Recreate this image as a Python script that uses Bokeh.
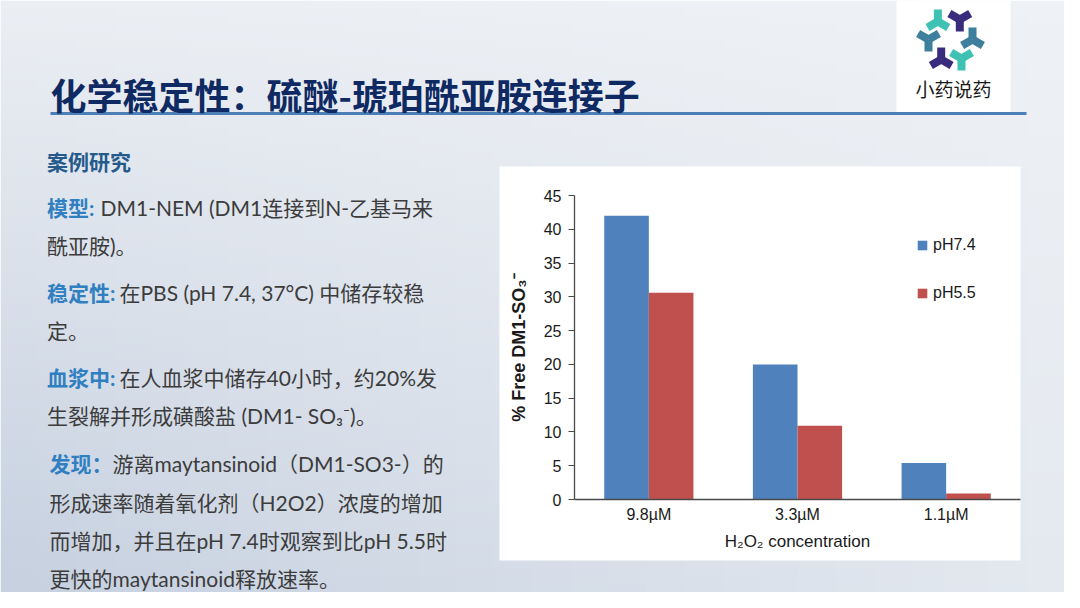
from bokeh.plotting import figure
from bokeh.models import Range1d, FixedTicker, Label, ColumnDataSource
from bokeh.transform import dodge
from bokeh.embed import file_html
from bokeh.resources import INLINE
import math

# ---------------- data ----------------
concentrations = ["9.8µM", "3.3µM", "1.1µM"]
ph74_values = [42.0, 20.0, 5.4]
ph55_values = [30.6, 10.9, 0.9]
series_names = ["pH7.4", "pH5.5"]
y_ticks = [0, 5, 10, 15, 20, 25, 30, 35, 40, 45]
y_label = "% Free DM1-SO₃⁻"
x_label = "H₂O₂ concentration"

title_text = "化学稳定性：硫醚-琥珀酰亚胺连接子"
logo_text = "小药说药"
heading_text = "案例研究"
para_labels = ["模型:", "稳定性:", "血浆中:", "发现："]
para_lines = [
    ["DM1-NEM (DM1连接到N-乙基马来", "酰亚胺)。"],
    ["在PBS (pH 7.4, 37°C) 中储存较稳", "定。"],
    ["在人血浆中储存40小时，约20%发", "生裂解并形成磺酸盐 (DM1- SO₃⁻)。"],
    ["游离maytansinoid（DM1-SO3-）的", "形成速率随着氧化剂（H2O2）浓度的增加",
     "而增加，并且在pH 7.4时观察到比pH 5.5时", "更快的maytansinoid释放速率。"],
]

# ---------------- geometry / styling ----------------
W, H = 1064, 592
CH_L, CH_R, CH_T, CH_B = 574, 1020, 195, 499        # chart axes box (page px)
PANEL_L, PANEL_R, PANEL_T, PANEL_B = 499, 1020, 166, 560
BLUE = "#4f81bd"
RED = "#c0504d"
CHART_FONT = "Liberation Sans, Arial, sans-serif"
BODY_FONT = "Lato, 'Noto Sans CJK SC', sans-serif"
CJK_FONT = "'Noto Sans CJK SC', sans-serif"
LIGHT = (238, 241, 245)
DARK = (199, 209, 224)

n = len(concentrations)
ymax = y_ticks[-1]
ppx = (CH_R - CH_L) / n
ppy = (CH_B - CH_T) / ymax
x_start, x_end = -CH_L / ppx, n + (W - CH_R) / ppx
y_start, y_end = -(H - CH_B) / ppy, ymax + CH_T / ppy

p = figure(width=W, height=H, x_range=Range1d(x_start, x_end), y_range=Range1d(y_start, y_end),
           output_backend="svg", toolbar_location=None, min_border=0,
           outline_line_color=None, background_fill_color="white",
           border_fill_color="white")
p.extra_x_ranges = {"px": Range1d(0, W)}
p.extra_y_ranges = {"px": Range1d(H, 0)}
p.grid.visible = False

# ---------------- slide background ----------------
def shade(x, y):
    d = (y / 608.0) * (1 - 0.75 * x / 1080.0) + 0.08 * (1 - x / 1080.0)
    d = min(max(d, 0.0), 1.0)
    return "#%02x%02x%02x" % tuple(int(round(a + (b - a) * d)) for a, b in zip(LIGHT, DARK))


bl, br, bt, bb, bc = [], [], [], [], []
for yy in range(0, H, 8):
    for xx in range(0, W, 38):
        bl.append(xx)
        br.append(min(xx + 38.6, W))
        bt.append(yy)
        bb.append(min(yy + 8.6, H))
        bc.append(shade(xx + 19, yy + 4))
p.quad(left=bl, right=br, top=bt, bottom=bb, fill_color=bc, line_color=None,
       x_range_name="px", y_range_name="px", level="image")
# white chart panel, logo box, title underline
p.quad(left=[PANEL_L, 896], right=[PANEL_R, 1010], top=[PANEL_T, 0], bottom=[PANEL_B, 113],
       fill_color="white", line_color=None, x_range_name="px", y_range_name="px",
       level="image")
p.quad(left=[50], right=[1026], top=[111.5], bottom=[114.5], fill_color="#4b7fb5",
       line_color=None, x_range_name="px", y_range_name="px")


def add_text(x, y, text, size, color, bold=False, font=BODY_FONT, align="left"):
    p.add_layout(Label(x=x, y=y, x_range_name="px", y_range_name="px", text=text,
                       text_font=font, text_font_size=f"{size}px",
                       text_font_style="bold" if bold else "normal", text_color=color,
                       text_align=align, text_baseline="middle"))


add_text(50, 93, title_text, 36, "#0f2a63", bold=True, font=CJK_FONT)
add_text(953, 88, logo_text, 19, "#1a1a1a", font=CJK_FONT, align="center")

# logo: six Y-shaped marks around a ring
TEAL, NAVY, STEEL = "#3fc2b4", "#3a2c7d", "#3e7f9e"
cx, cy, rad, arm = 950, 39, 22, 12
ring = [(125, TEAL, 90), (65, NAVY, 30), (0, STEEL, 90), (-60, TEAL, 30),
        (-115, NAVY, 90), (180, STEEL, 30)]
sx0, sy0, sx1, sy1, scol = [], [], [], [], []
for ang, colr, base in ring:
    px = cx + rad * math.cos(math.radians(ang))
    py = cy - rad * math.sin(math.radians(ang))
    for k in range(3):
        a = math.radians(base + 120 * k)
        sx0.append(px)
        sy0.append(py)
        sx1.append(px + arm * math.cos(a))
        sy1.append(py - arm * math.sin(a))
        scol.append(colr)
p.segment(x0=sx0, y0=sy0, x1=sx1, y1=sy1, line_color=scol, line_width=8,
          x_range_name="px", y_range_name="px")

# left text block
LABEL_BLUE = "#2f7fc1"
HEAD_BLUE = "#255a8b"
TXT = "#3c3c3c"
FS = 21
add_text(46.5, 160.5, heading_text, FS, HEAD_BLUE, bold=True)
para_y = [[206.7, 245], [291.7, 330], [377.3, 415], [463.3, 501.7, 540, 578.3]]
label_x = [46.5, 46.5, 46.5, 49]
body_x = [100, 119, 119, 112]
for i in range(4):
    add_text(label_x[i], para_y[i][0], para_labels[i], FS, LABEL_BLUE, bold=True)
    for j, line in enumerate(para_lines[i]):
        xx = body_x[i] if j == 0 else label_x[i]
        add_text(xx, para_y[i][j], line, FS, TXT)

# ---------------- chart ----------------
xpos = [i + 0.5 for i in range(n)]
source = ColumnDataSource(dict(xpos=xpos, conc=concentrations, ph74=ph74_values,
                               ph55=ph55_values))
p.vbar(x=dodge("xpos", -0.15), top="ph74", width=0.3, source=source,
       fill_color=BLUE, line_color=None, legend_label=series_names[0])
p.vbar(x=dodge("xpos", 0.15), top="ph55", width=0.3, source=source,
       fill_color=RED, line_color=None, legend_label=series_names[1])

ax_col = "#4a4a4a"
yax = p.yaxis[0]
yax.fixed_location = 0
yax.bounds = (0, ymax)
yax.ticker = FixedTicker(ticks=y_ticks)
yax.axis_label = y_label
yax.axis_label_text_font = CHART_FONT
yax.axis_label_text_font_style = "bold"
yax.axis_label_text_font_size = "18px"
yax.axis_label_text_color = "#1a1a1a"
yax.axis_label_standoff = 12
yax.major_label_text_font = CHART_FONT
yax.major_label_text_font_size = "16px"
yax.major_label_text_color = "#1a1a1a"
yax.major_label_standoff = 7
yax.major_tick_out = 6
yax.major_tick_in = 0
yax.minor_tick_out = 0
yax.minor_tick_in = 0
yax.axis_line_color = ax_col
yax.major_tick_line_color = ax_col
yax.axis_line_width = 1.3

xax = p.xaxis[0]
xax.fixed_location = 0
xax.bounds = (0, n)
xax.ticker = FixedTicker(ticks=xpos)
xax.major_label_overrides = {xpos[i]: concentrations[i] for i in range(n)}
xax.axis_label = x_label
xax.axis_label_text_font = CHART_FONT
xax.axis_label_text_font_style = "normal"
xax.axis_label_text_font_size = "17px"
xax.axis_label_text_color = "#1a1a1a"
xax.axis_label_standoff = 6
xax.major_label_text_font = CHART_FONT
xax.major_label_text_font_size = "16px"
xax.major_label_text_color = "#1a1a1a"
xax.major_label_standoff = 6
xax.major_tick_out = 0
xax.major_tick_in = 0
xax.minor_tick_out = 0
xax.minor_tick_in = 0
xax.axis_line_color = ax_col
xax.axis_line_width = 1.3

lg = p.legend[0]
lg.location = (916, H - 302)
lg.glyph_width = 12
lg.glyph_height = 12
lg.label_height = 12
lg.spacing = 30
lg.padding = 0
lg.margin = 0
lg.border_line_color = None
lg.background_fill_alpha = 0
lg.label_text_font = CHART_FONT
lg.label_text_font_size = "16px"
lg.label_text_color = "#1a1a1a"
lg.label_standoff = 5

open("out.html", "w").write(file_html(p, INLINE))
